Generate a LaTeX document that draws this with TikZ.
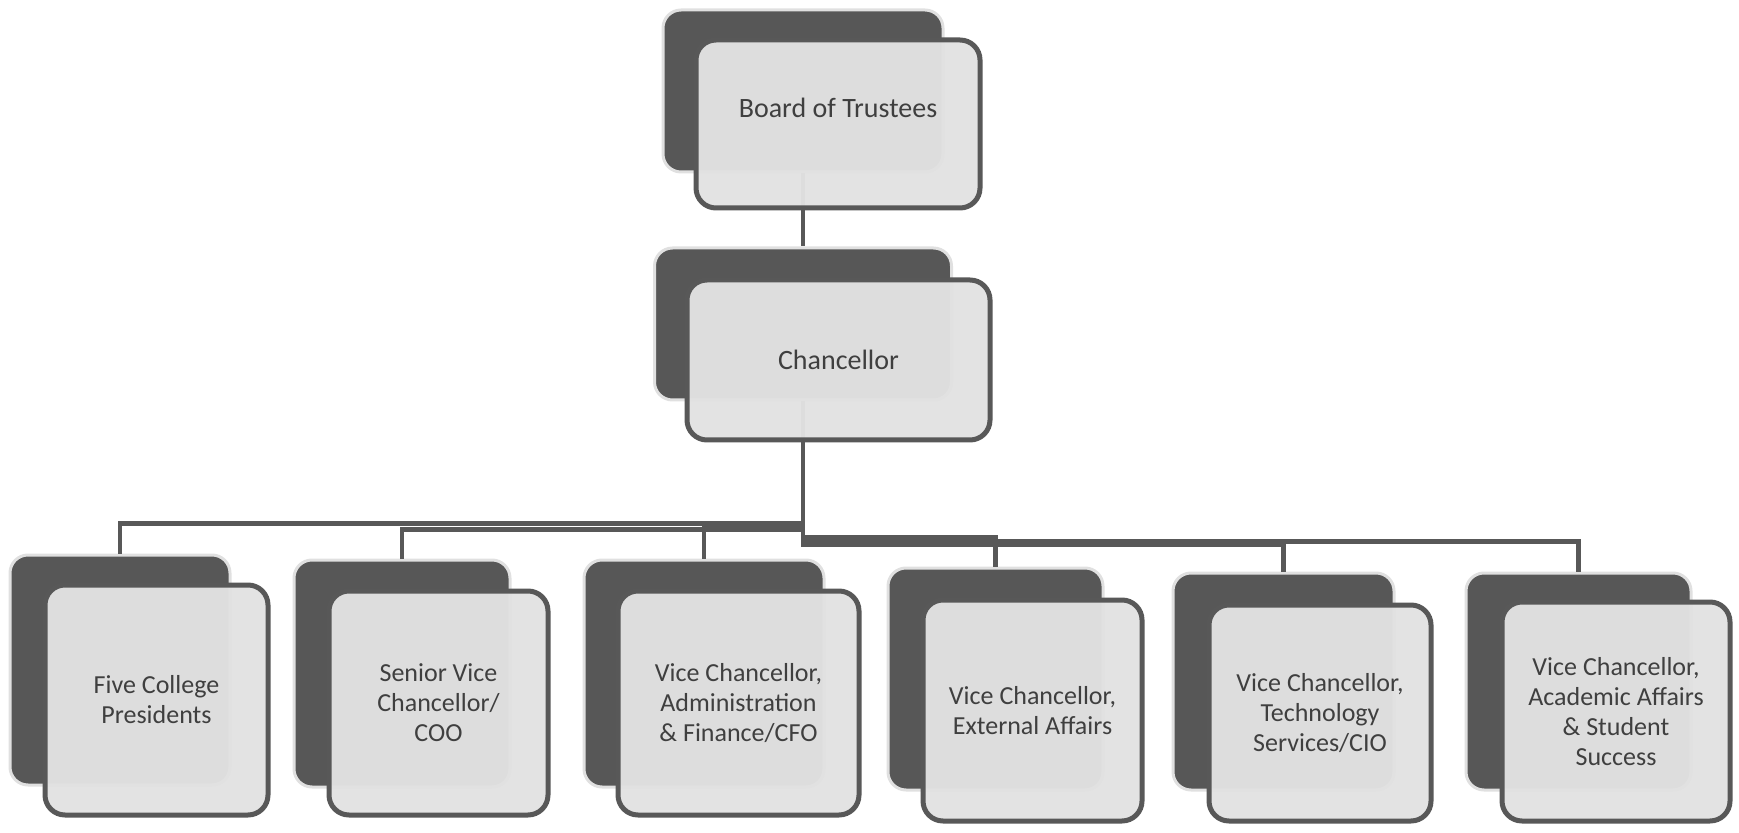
\documentclass[tikz,border=0pt]{standalone}
\usepackage{fontspec}
\setmainfont{Carlito}
\usetikzlibrary{positioning,calc}
\definecolor{backgray}{HTML}{575757}
\definecolor{frontgray}{HTML}{E2E2E2}
\definecolor{linegray}{HTML}{585858}
\definecolor{textgray}{HTML}{3F3F3F}

\begin{document}
\begin{tikzpicture}[x=0.5pt, y=-0.5pt,
  back/.style={rectangle, rounded corners=9pt, fill=backgray, draw=black!12, line width=1.5pt, inner sep=0pt},
  front/.style={rectangle, rounded corners=10pt, fill=frontgray, fill opacity=0.97, text opacity=1, draw=linegray, line width=2.5pt, text=textgray, align=center, inner sep=0pt},
  toptext/.style={font=\fontsize{14}{16}\selectfont},
  subtext/.style={font=\fontsize{13}{15}\selectfont},
  conn/.style={draw=linegray, line width=2.4pt}]
\useasboundingbox (0,0) rectangle (1739,833);
%back boxes
\node[back, minimum width=140pt, minimum height=81pt] (boardb) at (803,91) {};
\node[back, minimum width=148.5pt, minimum height=76pt] (chanb) at (803,324) {};
\node[back, minimum width=110pt, minimum height=115pt] (fiveb) at (120,670) {};
\node[back, minimum width=108pt, minimum height=113.5pt] (seniorb) at (402,673.5) {};
\node[back, minimum width=120pt, minimum height=113.5pt] (adminb) at (704,673.5) {};
\node[back, minimum width=107.5pt, minimum height=111pt] (extb) at (995.5,679) {};
\node[back, minimum width=110.5pt, minimum height=108.5pt] (techb) at (1283.5,681.5) {};
\node[back, minimum width=112.5pt, minimum height=108.5pt] (acadb) at (1578.5,681.5) {};
%connectors
\draw[conn] (boardb.south) -- (chanb.north);
\draw[conn] (chanb.south) -- ++(0,122) -| (fiveb.north);
\draw[conn] (chanb.south) -- ++(0,128) -| (seniorb.north);
\draw[conn] (chanb.south) -- ++(0,125) -| (adminb.north);
\draw[conn] (chanb.south) -- ++(0,136) -| (extb.north);
\draw[conn] (chanb.south) -- ++(0,143) -| (techb.north);
\draw[conn] (chanb.south) -- ++(0,140) -| (acadb.north);
%front boxes
\node[front, toptext, minimum width=142pt, minimum height=84pt] (board) at (838,124) {\raisebox{3.3pt}[0pt][0pt]{Board of Trustees}};
\node[front, toptext, minimum width=151.5pt, minimum height=80pt] (chan) at (838.5,360) {Chancellor};
\node[front, subtext, minimum width=111.5pt, minimum height=115pt] (five) at (156.5,700) {Five College\\Presidents};
\node[front, subtext, minimum width=109.5pt, minimum height=112pt] (senior) at (438.5,703) {Senior Vice\\Chancellor/\\COO};
\node[front, subtext, minimum width=120.5pt, minimum height=112pt] (admin) at (738.5,703) {Vice Chancellor,\\Administration\\\& Finance/CFO};
\node[front, subtext, minimum width=109.5pt, minimum height=110.5pt] (ext) at (1032.5,710.5) {Vice Chancellor,\\External Affairs};
\node[front, subtext, minimum width=111pt, minimum height=108pt] (tech) at (1320,713) {Vice Chancellor,\\Technology\\Services/CIO};
\node[front, subtext, minimum width=114pt, minimum height=109.5pt] (acad) at (1616,711.5) {Vice Chancellor,\\Academic Affairs\\\& Student\\Success};
\end{tikzpicture}
\end{document}
